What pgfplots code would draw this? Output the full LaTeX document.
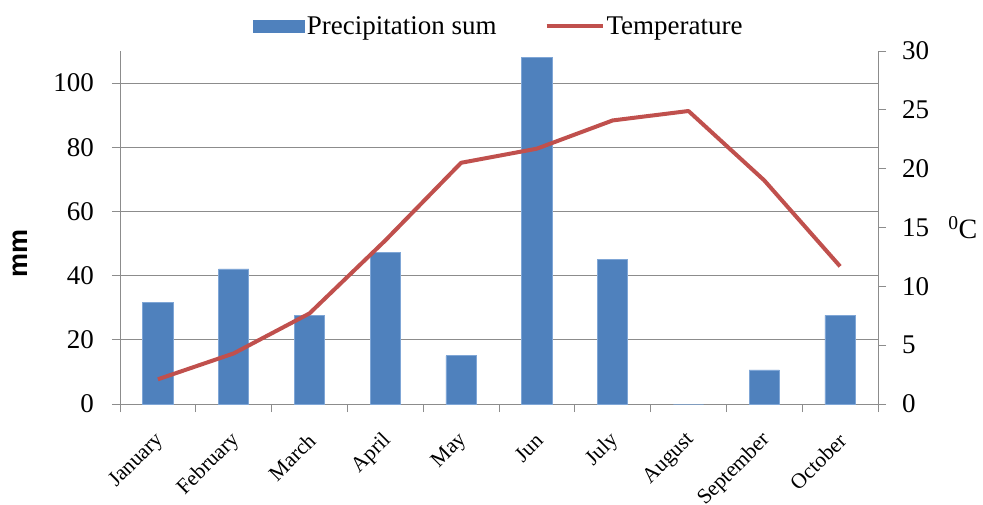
\documentclass[border=0pt]{standalone}
\usepackage{pgfplots}
\pgfplotsset{compat=1.18}
\usepackage{fontspec}
\setmainfont{Liberation Serif}
\newfontfamily\labelsans{Liberation Sans}
\definecolor{barblue}{HTML}{4F81BD}
\definecolor{baredge}{HTML}{7FA6D6}
\definecolor{tempred}{HTML}{C0504D}
\definecolor{axisgray}{HTML}{8C8C8C}

\pgfplotstableread{
idx precip temp
0   31.7   2.1
1   42.1   4.3
2   27.7   7.7
3   47.3  13.9
4   15.0  20.5
5  108.0  21.7
6   45.0  24.1
7    0.0  24.9
8   10.6  19.0
9   27.6  11.7
}\climate

\pgfplotsset{
  climatebase/.style={
    at={(120pt,-404pt)}, anchor=south west,
    width=758pt, height=353pt, scale only axis,
    xmin=-0.5, xmax=9.5,
    tick align=outside, major tick length=8pt,
    every tick/.style={draw=axisgray, line width=1pt},
    axis line style={draw=axisgray, line width=1pt},
    /pgf/number format/assume math mode=true,
    ticklabel style={font=\fontsize{27}{29}\selectfont},
  },
}

\begin{document}
\begin{tikzpicture}[x=1pt,y=1pt]
\useasboundingbox (0,0) rectangle (983,-504);
% precipitation, left axis
\begin{axis}[climatebase,
  ymin=0, ymax=110,
  axis y line*=left, axis x line*=bottom,
  ytick={0,20,...,100},
  ymajorgrids, grid style={draw=axisgray, line width=1pt},
  xtick={-0.5,0.5,...,9.5},
  x tick label as interval,
  xticklabels={January,February,March,April,May,Jun,July,August,September,October},
  xticklabel style={rotate=45, anchor=east, inner sep=0pt,
    font=\fontsize{21.5}{23}\selectfont, xshift=-16pt, yshift=-19.5pt},
  yticklabel style={inner sep=0pt, xshift=-18pt},
  ylabel={\labelsans\bfseries mm},
  ylabel style={at={(axis description cs:-0.132,0.425)}, anchor=center,
    font=\fontsize{27}{29}\selectfont},
]
\addplot[ybar, bar width=0.4, fill=barblue, draw=baredge, line width=0.8pt]
  table[x=idx, y=precip] {\climate};
\end{axis}
% temperature, right axis
\begin{axis}[climatebase,
  ymin=0, ymax=30,
  axis y line*=right, axis x line=none,
  ytick={0,5,...,30},
  yticklabel style={inner sep=0pt, xshift=16pt},
  ylabel={\textsuperscript{0}C},
  ylabel style={at={(axis description cs:1.112,0.50)}, anchor=center, rotate=-90,
    font=\fontsize{28}{30}\selectfont},
  legend columns=2,
  legend style={at={(axis description cs:0.5,1.071)}, anchor=center,
    draw=none, fill=none, font=\fontsize{27}{29}\selectfont,
    /tikz/every even column/.append style={column sep=46pt}},
]
\addlegendimage{legend image code/.code={
  \fill[barblue] (0pt,-6pt) rectangle (51pt,6pt);}}
\addlegendentry{Precipitation sum}
\addplot[tempred, line width=4pt, line join=round,
  legend image code/.code={\draw[tempred, line width=4pt] (0pt,0pt) -- (56pt,0pt);}]
  table[x=idx, y=temp] {\climate};
\addlegendentry{Temperature}
\end{axis}
\end{tikzpicture}
\end{document}
